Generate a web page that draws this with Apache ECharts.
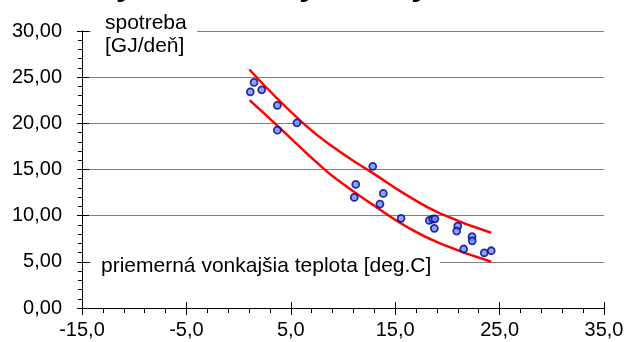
<!DOCTYPE html>
<html><head><meta charset="utf-8">
<script src="https://cdn.jsdelivr.net/npm/echarts@6/dist/echarts.min.js"></script>
<style>html,body{margin:0;padding:0;background:#fff}#c{width:628px;height:342px}</style>
</head><body><div id="c"></div>
<script>
// measured points: outdoor temperature [deg.C] and consumption [GJ/day]
var tempX = [1.48, 1.12, 2.21, 3.71, 5.59, 3.71, 12.85, 11.22, 13.86, 11.08, 13.54, 15.56, 18.27, 18.59, 18.81, 18.75, 20.99, 20.89, 22.36, 22.38, 21.56, 23.53, 24.20];
var consumption = [24.43, 23.41, 23.63, 21.94, 20.05, 19.26, 15.34, 13.39, 12.41, 11.98, 11.26, 9.71, 9.49, 9.63, 9.66, 8.63, 8.87, 8.33, 7.72, 7.28, 6.39, 5.98, 6.20];
// upper and lower band curves
var upperX = [1.03, 6.20, 9.71, 12.90, 16.10, 19.29, 24.20];
var upperY = [25.83, 19.99, 16.92, 14.58, 12.23, 10.25, 8.15];
var lowerX = [1.05, 3.32, 8.11, 9.71, 12.90, 16.10, 19.29, 24.20];
var lowerY = [22.51, 20.16, 15.12, 13.67, 11.15, 8.80, 7.00, 5.01];
// tick labels
var xTickValues = [-15, -5, 5, 15, 25, 35];
var xTickLabels = ['-15,0', '-5,0', '5,0', '15,0', '25,0', '35,0'];
var yTickValues = [0, 5, 10, 15, 20, 25, 30];
var yTickLabels = ['0,00', '5,00', '10,00', '15,00', '20,00', '25,00', '30,00'];
var yName = ['spotreba', '[GJ/deň]'];
var xName = 'priemerná vonkajšia teplota [deg.C]';
var titleText = 'Hodnoty a ich krivky a body';

function zip(a, b) { return a.map(function (v, i) { return [v, b[i]]; }); }
function lookup(vals, labels) {
  return function (v) { var i = vals.findIndex(function (t) { return Math.abs(t - v) < 1e-6; }); return i >= 0 ? labels[i] : ''; };
}
var FONT = 'Liberation Sans, Arial, sans-serif';
var chart = echarts.init(document.getElementById('c'), null, {renderer: 'canvas'});
var xBase = {type: 'value', min: -15, max: 35, interval: 10, position: 'bottom',
  axisLine: {show: true, onZero: false, lineStyle: {color: '#000', width: 1}}, splitLine: {show: false}};
var yBase = {type: 'value', min: 0, max: 30, interval: 5, position: 'left',
  axisLine: {show: true, onZero: false, lineStyle: {color: '#000', width: 1}}};
chart.setOption({
  animation: false,
  backgroundColor: '#fff',
  grid: {left: 82, right: 24, top: 31, bottom: 34, containLabel: false},
  xAxis: [
    Object.assign({}, xBase, {
      axisTick: {show: true, inside: false, length: 7, lineStyle: {color: '#000'}},
      minorTick: {show: true, splitNumber: 5, length: 5, lineStyle: {color: '#000'}},
      axisLabel: {show: true, margin: 12, color: '#000', fontSize: 20, fontFamily: FONT, formatter: lookup(xTickValues, xTickLabels)}
    }),
    Object.assign({}, xBase, {
      axisTick: {show: true, inside: true, length: 6, lineStyle: {color: '#000'}},
      axisLabel: {show: false}
    })
  ],
  yAxis: [
    Object.assign({}, yBase, {
      axisTick: {show: true, inside: false, length: 5, lineStyle: {color: '#000'}},
      minorTick: {show: true, splitNumber: 5, length: 4, lineStyle: {color: '#000'}},
      splitLine: {show: true, lineStyle: {color: '#808080', width: 1}},
      axisLabel: {show: true, margin: 20, color: '#000', fontSize: 20, fontFamily: FONT, formatter: lookup(yTickValues, yTickLabels)}
    }),
    Object.assign({}, yBase, {
      axisTick: {show: true, inside: true, length: 7, lineStyle: {color: '#000'}},
      splitLine: {show: false},
      axisLabel: {show: false}
    })
  ],
  graphic: [
    {type: 'rect', z: 50, shape: {x: 91, y: 10, width: 106, height: 50}, style: {fill: '#fff'}},
    {type: 'text', z: 51, x: 105, y: 23, style: {text: yName[0], font: '21px ' + FONT, fill: '#000', verticalAlign: 'middle'}},
    {type: 'text', z: 51, x: 105, y: 46, style: {text: yName[1], font: '21px ' + FONT, fill: '#000', verticalAlign: 'middle'}},
    {type: 'rect', z: 50, shape: {x: 91, y: 252, width: 349, height: 26}, style: {fill: '#fff'}},
    {type: 'text', z: 51, x: 101, y: 266, style: {text: xName, font: '21px ' + FONT, fill: '#000', verticalAlign: 'middle'}},
    {type: 'text', z: 51, x: 4, y: 2, style: {text: titleText, font: 'bold 32px ' + FONT, fill: '#000', verticalAlign: 'bottom'}}
  ],
  series: [
    {type: 'line', data: zip(upperX, upperY), smooth: true, symbol: 'none', z: 3,
      lineStyle: {color: '#ff0000', width: 2.5}},
    {type: 'line', data: zip(lowerX, lowerY), smooth: true, symbol: 'none', z: 3,
      lineStyle: {color: '#ff0000', width: 2.5}},
    {type: 'scatter', data: zip(tempX, consumption), symbol: 'circle', symbolSize: 7, z: 4,
      itemStyle: {color: '#6f8fff', borderColor: '#00008b', borderWidth: 1.8}}
  ]
});
</script></body></html>
